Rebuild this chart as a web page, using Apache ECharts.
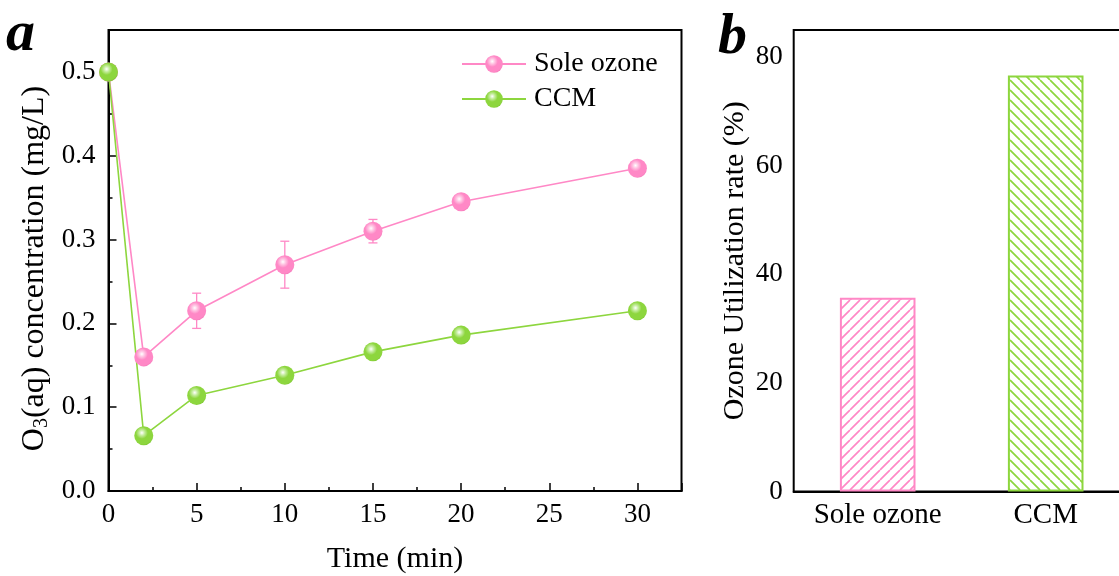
<!DOCTYPE html>
<html>
<head>
<meta charset="utf-8">
<script src="https://cdn.jsdelivr.net/npm/echarts@6/dist/echarts.min.js"></script>
<style>
  html, body { margin: 0; padding: 0; background: #fff; }
  #chart { width: 1119px; height: 576px; }
</style>
</head>
<body>
<div id="chart"></div>
<script>
// Dissolved ozone over time (panel a)
const timeMin = [0, 2, 5, 10, 15, 20, 30];
const soleOzone = [0.5, 0.16, 0.215, 0.27, 0.31, 0.345, 0.385];
const soleOzoneErr = [0, 0.004, 0.021, 0.028, 0.014, 0.005, 0.004];
const ccm = [0.5, 0.066, 0.114, 0.138, 0.166, 0.186, 0.215];
const ccmErr = [0, 0.002, 0.002, 0.003, 0.003, 0.002, 0.002];

// Ozone utilization rate (panel b)
const methods = ['Sole ozone', 'CCM'];
const utilization = [35.7, 76.6];

const PINK = '#ff88c6';
const GREEN = '#8dd63e';
const FONT = '"Liberation Serif", "Times New Roman", serif';

function sphere(base, light, dark) {
  return {
    type: 'radial', x: 0.4, y: 0.35, r: 0.7,
    colorStops: [
      { offset: 0, color: '#ffffff' },
      { offset: 0.2, color: light },
      { offset: 0.45, color: base },
      { offset: 0.85, color: base },
      { offset: 1, color: dark }
    ]
  };
}

function hatch(color, rising) {
  const s = 10;
  const c = document.createElement('canvas');
  c.width = s; c.height = s;
  const g = c.getContext('2d');
  g.strokeStyle = color;
  g.lineWidth = 1.7;
  g.beginPath();
  for (let k = -1; k <= 1; k++) {
    if (rising) {
      g.moveTo(k * s, s); g.lineTo(k * s + s, 0);
    } else {
      g.moveTo(k * s, 0); g.lineTo(k * s + s, s);
    }
  }
  g.stroke();
  return { image: c, repeat: 'repeat' };
}

function pairs(xs, ys) { return xs.map((x, i) => [x, ys[i]]); }
function errData(xs, ys, es) { return xs.map((x, i) => [x, ys[i] - es[i], ys[i] + es[i]]); }

function errorSeries(data, color) {
  return {
    type: 'custom', xAxisIndex: 0, yAxisIndex: 0, z: 1, silent: true,
    data: data,
    renderItem: function (params, api) {
      const x = api.value(0);
      const lo = api.coord([x, api.value(1)]);
      const hi = api.coord([x, api.value(2)]);
      const w = 4.5;
      const st = { stroke: color, lineWidth: 1.3 };
      return {
        type: 'group',
        children: [
          { type: 'line', shape: { x1: lo[0], y1: lo[1], x2: hi[0], y2: hi[1] }, style: st },
          { type: 'line', shape: { x1: lo[0] - w, y1: lo[1], x2: lo[0] + w, y2: lo[1] }, style: st },
          { type: 'line', shape: { x1: hi[0] - w, y1: hi[1], x2: hi[0] + w, y2: hi[1] }, style: st }
        ]
      };
    }
  };
}

const tickLabel = { color: '#000', fontFamily: FONT, fontSize: 27 };
const axisLine = { lineStyle: { color: '#000', width: 2 } };
const majorTick = { inside: true, length: 8, lineStyle: { color: '#000', width: 1.5 } };
const minorTick = { inside: true, length: 4, lineStyle: { color: '#000', width: 1.5 } };

function onStep(v, step) {
  const q = v / step;
  return Math.abs(q - Math.round(q)) < 1e-6;
}

const chart = echarts.init(document.getElementById('chart'));
chart.setOption({
  animation: false,
  backgroundColor: '#fff',
  grid: [
    { left: 108.5, top: 30, width: 573, height: 461, show: true, borderColor: '#000', borderWidth: 2, outerBoundsMode: 'none', containLabel: false },
    { left: 793.7, top: 30, width: 336, height: 461.5, show: true, borderColor: '#000', borderWidth: 2, outerBoundsMode: 'none', containLabel: false }
  ],
  xAxis: [
    {
      gridIndex: 0, type: 'value', min: 0, max: 32.5, interval: 5,
      name: 'Time (min)', nameLocation: 'middle', nameGap: 53,
      nameTextStyle: { color: '#000', fontFamily: FONT, fontSize: 30 },
      axisLine: axisLine, axisTick: majorTick,
      axisLabel: Object.assign({ margin: 10, formatter: v => onStep(v, 5) && v <= 30 ? String(v) : '' }, tickLabel),
      splitLine: { show: false }
    },
    {
      gridIndex: 0, type: 'value', min: 0, max: 32.5, interval: 2.5, position: 'bottom',
      axisLine: { show: false }, axisTick: minorTick,
      axisLabel: { show: false }, splitLine: { show: false }
    },
    {
      gridIndex: 1, type: 'category', data: methods,
      axisLine: axisLine,
      axisTick: Object.assign({ alignWithLabel: true }, majorTick),
      axisLabel: Object.assign({}, tickLabel, { margin: 9, fontSize: 29 })
    },
    {
      gridIndex: 1, type: 'category', data: methods, position: 'bottom',
      axisLine: { show: false }, axisTick: minorTick,
      axisLabel: { show: false }
    }
  ],
  yAxis: [
    {
      gridIndex: 0, type: 'value', min: 0, max: 0.55, interval: 0.1,
      name: '{a|O}{s|3}{a|(aq) concentration (mg/L)}', nameLocation: 'middle', nameGap: 56,
      nameMoveOverlap: false,
      nameTextStyle: {
        color: '#000', fontFamily: FONT, fontSize: 32, padding: [0, 16, 0, 0],
        rich: {
          a: { fontFamily: FONT, fontSize: 32, color: '#000', lineHeight: 36 },
          s: { fontFamily: FONT, fontSize: 20, color: '#000', lineHeight: 36, padding: [14, 0, 0, 0] }
        }
      },
      axisLine: axisLine, axisTick: majorTick,
      axisLabel: Object.assign({ margin: 13, formatter: v => onStep(v, 0.1) ? v.toFixed(1) : '' }, tickLabel),
      splitLine: { show: false }
    },
    {
      gridIndex: 0, type: 'value', min: 0, max: 0.55, interval: 0.05, position: 'left',
      axisLine: { show: false }, axisTick: minorTick,
      axisLabel: { show: false }, splitLine: { show: false }
    },
    {
      gridIndex: 1, type: 'value', min: 0, max: 85, interval: 20,
      name: 'Ozone Utilization rate (%)', nameLocation: 'middle', nameGap: 44,
      nameTextStyle: { color: '#000', fontFamily: FONT, fontSize: 30 },
      axisLine: axisLine, axisTick: majorTick,
      axisLabel: Object.assign({ margin: 11, formatter: v => onStep(v, 20) ? String(v) : '' }, tickLabel),
      splitLine: { show: false }
    },
    {
      gridIndex: 1, type: 'value', min: 0, max: 85, interval: 10, position: 'left',
      axisLine: { show: false }, axisTick: minorTick,
      axisLabel: { show: false }, splitLine: { show: false }
    }
  ],
  legend: {
    left: 456, top: 45, orient: 'vertical',
    itemWidth: 64, itemHeight: 22, itemGap: 7,
    data: ['Sole ozone', 'CCM'],
    textStyle: { color: '#000', fontFamily: FONT, fontSize: 28, padding: [0, 0, 0, 3] }
  },
  graphic: [
    { type: 'text', left: 6, top: 6, style: { text: 'a', fontFamily: FONT, fontSize: 58, fontWeight: 'bold', fontStyle: 'italic', fill: '#000' } },
    { type: 'text', left: 718, top: 9, style: { text: 'b', fontFamily: FONT, fontSize: 58, fontWeight: 'bold', fontStyle: 'italic', fill: '#000' } }
  ],
  series: [
    errorSeries(errData(timeMin, soleOzone, soleOzoneErr), PINK),
    errorSeries(errData(timeMin, ccm, ccmErr), '#ffffff'),
    {
      name: 'Sole ozone', type: 'line', xAxisIndex: 0, yAxisIndex: 0, z: 3,
      data: pairs(timeMin, soleOzone),
      symbol: 'circle', symbolSize: 19,
      lineStyle: { color: PINK, width: 1.6 },
      itemStyle: { color: sphere(PINK, '#ffc6e3', '#f277b8') }
    },
    {
      name: 'CCM', type: 'line', xAxisIndex: 0, yAxisIndex: 0, z: 3,
      data: pairs(timeMin, ccm),
      symbol: 'circle', symbolSize: 19,
      lineStyle: { color: GREEN, width: 1.6 },
      itemStyle: { color: sphere(GREEN, '#c6eda0', '#7cc531') }
    },
    {
      type: 'bar', xAxisIndex: 2, yAxisIndex: 2, barWidth: '45%',
      data: [
        { value: utilization[0], itemStyle: { color: hatch(PINK, true), borderColor: PINK, borderWidth: 2 } },
        { value: utilization[1], itemStyle: { color: hatch(GREEN, false), borderColor: GREEN, borderWidth: 2 } }
      ]
    }
  ]
});
</script>
</body>
</html>
